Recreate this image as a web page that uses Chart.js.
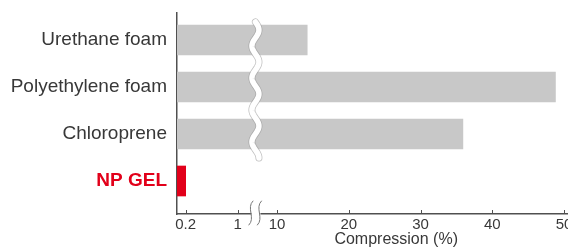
<!DOCTYPE html>
<html>
<head>
<meta charset="utf-8">
<script src="https://cdn.jsdelivr.net/npm/chart.js@4"></script>
<style>
  html, body { margin: 0; padding: 0; background: #fff; }
  #wrap { width: 568px; height: 251px; position: relative; }
</style>
</head>
<body>
<div id="wrap"><canvas id="c"></canvas></div>
<script>
// ---- data ----
const categories = ['Urethane foam', 'Polyethylene foam', 'Chloroprene', 'NP GEL'];
const compression = [14.2, 48.8, 35.9, 0.2];          // Compression (%)
const tickValues = [0.2, 1, 10, 20, 30, 40, 50];
const tickLabels = ['0.2', '1', '10', '20', '30', '40', '50'];
const axisTitle = 'Compression (%)';

// ---- broken-axis transform (value -> internal axis units) ----
const breakValues = [0, 0.2, 1, 10, 50];
const breakUnits  = [0, 1.21, 8.47, 13.95, 53.95];
function toAxis(v) {
  for (let i = 1; i < breakValues.length; i++) {
    if (v <= breakValues[i] || i === breakValues.length - 1) {
      const a = breakValues[i-1], b = breakValues[i];
      const ua = breakUnits[i-1], ub = breakUnits[i];
      return ua + (v - a) * (ub - ua) / (b - a);
    }
  }
}

const GREY = '#c8c8c8';
const RED = '#e2001a';
const AXIS = '#505050';
const TEXT = '#383838';
const FONT = "'Liberation Sans', Arial, sans-serif";
const NARROW = "'Liberation Sans Narrow', 'Liberation Sans', Arial, sans-serif";

const decor = {
  id: 'decor',
  afterDraw(chart) {
    const { ctx, chartArea } = chart;
    const xs = chart.scales.x, ys = chart.scales.y;
    ctx.save();
    // inward tick marks on the x axis
    ctx.strokeStyle = AXIS;
    ctx.lineWidth = 1;
    tickValues.forEach(v => {
      const px = Math.round(xs.getPixelForValue(toAxis(v))) + 0.5;
      ctx.beginPath();
      ctx.moveTo(px, chartArea.bottom);
      ctx.lineTo(px, chartArea.bottom - 4);
      ctx.stroke();
    });
    // break position between 1 and 10
    const p1 = xs.getPixelForValue(toAxis(1));
    const p10 = xs.getPixelForValue(toAxis(10));
    const bx = (p1 + p10) / 2 - 2;
    // wavy break across the bars
    const yTop = ys.getPixelForValue(0) - 18;
    const yBot = ys.getPixelForValue(2) + 24;
    function wave(offset) {
      ctx.beginPath();
      for (let y = yTop; y <= yBot; y += 1) {
        const x = bx + offset + 3.5 * Math.sin((y - yTop) / 32 * 2 * Math.PI);
        if (y === yTop) ctx.moveTo(x, y); else ctx.lineTo(x, y);
      }
      ctx.stroke();
    }
    ctx.lineCap = 'round';
    ctx.strokeStyle = 'rgba(150,150,150,0.6)';
    ctx.lineWidth = 7;
    wave(0);
    ctx.strokeStyle = '#ffffff';
    ctx.lineWidth = 5.5;
    wave(0);
    // break marks on the x axis
    const ay = chartArea.bottom;
    ctx.fillStyle = '#fff';
    ctx.fillRect(bx - 4, ay - 2, 9, 4);
    ctx.strokeStyle = '#777';
    ctx.lineWidth = 1;
    [-4.5, 4].forEach(off => {
      ctx.beginPath();
      ctx.moveTo(bx + off + 2, ay - 13);
      ctx.bezierCurveTo(bx + off - 5, ay - 6, bx + off + 5, ay + 4, bx + off - 2, ay + 11);
      ctx.stroke();
    });
    // axis title
    ctx.fillStyle = TEXT;
    ctx.font = "16px " + FONT;
    ctx.textAlign = 'center';
    ctx.textBaseline = 'alphabetic';
    const tx = xs.getPixelForValue(toAxis(10)) + (xs.getPixelForValue(toAxis(30)) - xs.getPixelForValue(toAxis(10))) * 0.83;
    ctx.fillText(axisTitle, tx, 244);
    ctx.restore();
  }
};

new Chart(document.getElementById('c'), {
  type: 'bar',
  data: {
    datasets: [{
      data: compression.map((v, i) => ({ x: toAxis(v), y: i })),
      backgroundColor: categories.map((c, i) => i === 3 ? RED : GREY),
      borderWidth: 0,
      barThickness: 30
    }]
  },
  options: {
    indexAxis: 'y',
    responsive: true,
    maintainAspectRatio: false,
    animation: false,
    layout: { padding: { top: 13, left: 0, right: 0, bottom: 0 } },
    plugins: { legend: { display: false }, tooltip: { enabled: false } },
    scales: {
      x: {
        type: 'linear',
        offset: false,
        min: 0,
        max: 54.5,
        grid: { display: false, drawTicks: false },
        border: { display: true, color: AXIS, width: 1.5 },
        afterBuildTicks: s => { s.ticks = tickValues.map(v => ({ value: toAxis(v) })); },
        afterFit: s => { s.height = 37; s.paddingLeft = 0; s.paddingRight = 0; },
        ticks: {
          autoSkip: false,
          maxRotation: 0,
          padding: 2,
          color: TEXT,
          font: { family: NARROW, size: 15 },
          callback: (val, i) => tickLabels[i]
        }
      },
      y: {
        type: 'linear',
        offset: false,
        reverse: true,
        min: -0.574,
        max: 3.702,
        grid: { display: false, drawTicks: false },
        border: { display: true, color: AXIS, width: 1.5 },
        afterBuildTicks: s => { s.ticks = categories.map((c, i) => ({ value: i })); },
        afterFit: s => { s.width = 177; s.paddingTop = 0; s.paddingBottom = 0; },
        ticks: {
          autoSkip: false,
          padding: 10,
          color: ctx => ctx.index === 3 ? RED : TEXT,
          font: ctx => ctx.index === 3
            ? { family: FONT, size: 19, weight: 'bold' }
            : { family: FONT, size: 19 },
          callback: (val, i) => categories[i]
        }
      }
    }
  },
  plugins: [decor]
});
</script>
</body>
</html>
